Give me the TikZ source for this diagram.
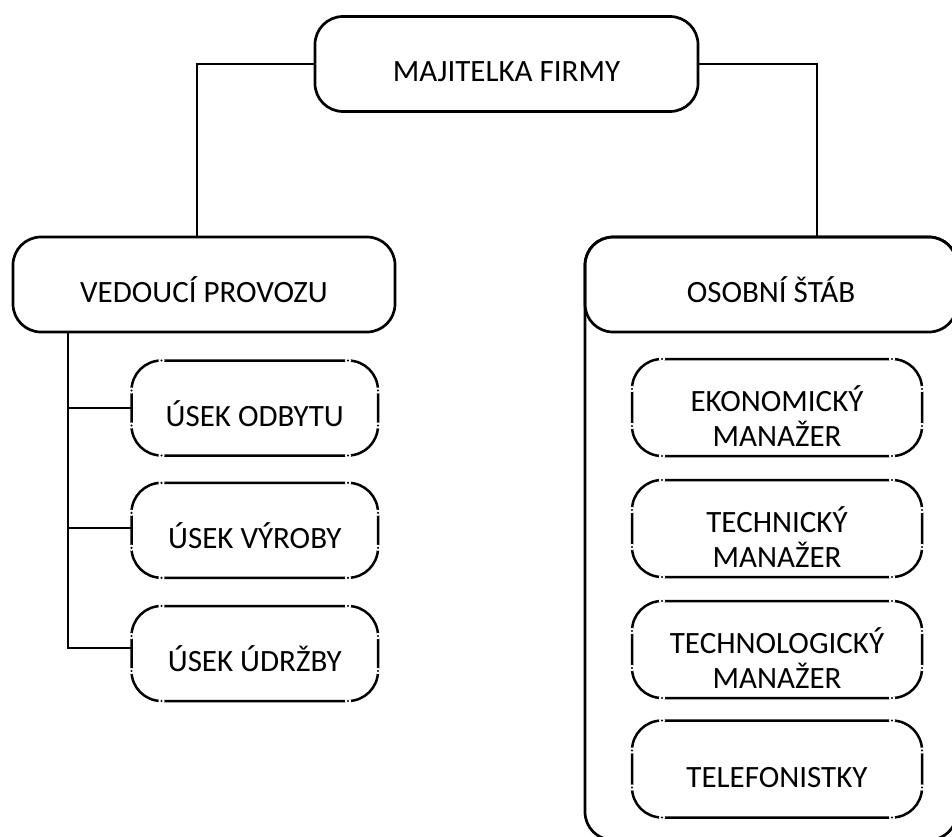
\documentclass[tikz,border=0pt]{standalone}
\usepackage{fontspec}
\setmainfont{Carlito}
\usetikzlibrary{calc}

% single line label: baseline sits a little below the box centre
\newcommand\oneline[1]{\raisebox{-18pt}[0pt][0pt]{#1}}
% two centred lines, first baseline just below the box centre
\newcommand\twoline[2]{\raisebox{-4.2pt}[0pt][0pt]{\vtop{\halign{\hfil##\hfil\cr #1\cr #2\cr}}}}

% breaks with a small dot where the corner arcs meet the straight sides
\newcommand\gapdots[1]{%
  \foreach \a/\dx/\dy in {north west/30/0, north west/0/-30, north east/-30/0, north east/0/-30,
                           south east/-30/0, south east/0/30, south west/30/0, south west/0/30}{%
    \fill[white] ([xshift=\dx pt, yshift=\dy pt]#1.\a) circle[radius=3.1pt];
    \fill[black] ([xshift=\dx pt, yshift=\dy pt]#1.\a) circle[radius=1.2pt];
  }}

\tikzset{
  headbox/.style={draw=black, line width=2.7pt, rounded corners=28pt, outer sep=0pt,
                  inner sep=0pt, minimum height=95pt},
  unitbox/.style={draw=black, line width=2.5pt, rounded corners=30pt, outer sep=0pt,
                  inner sep=0pt, minimum height=95pt, minimum width=246.5pt},
  staffbox/.style={unitbox, minimum height=97pt, minimum width=290pt},
  link/.style={draw=black, line width=2.5pt},
}

\begin{document}
\begin{tikzpicture}[x=1pt, y=-1pt, font=\fontsize{31}{35}\selectfont]
\useasboundingbox (0,0) rectangle (952,837);
\clip (0,0) rectangle (952,837);

% top level
\node[headbox, minimum width=383pt] (owner) at (506.5,64) {\oneline{MAJITELKA FIRMY}};

% second level
\node[headbox, minimum width=382pt] (ved) at (204,284.5) {\oneline{VEDOUCÍ PROVOZU}};
\node[headbox, minimum width=372pt] (staff) at (771,284.5) {\oneline{OSOBNÍ ŠTÁB}};

% frame that holds the staff units
\coordinate (staffend) at (957,840);
\draw[line width=2.7pt, rounded corners=28pt] (staff.north west) rectangle (staffend);

% production units
\node[unitbox] (odbyt) at (254.75,408) {\oneline{ÚSEK ODBYTU}};
\node[unitbox] (vyroba) at (254.75,530.3) {\oneline{ÚSEK VÝROBY}};
\node[unitbox] (udrzba) at (254.75,653.5) {\oneline{ÚSEK ÚDRŽBY}};

% staff units
\node[staffbox] (ekon) at (777,407.5) {\twoline{EKONOMICKÝ}{MANAŽER}};
\node[staffbox] (tech) at (777,528.5) {\twoline{TECHNICKÝ}{MANAŽER}};
\node[staffbox] (techno) at (777,649.5) {\twoline{TECHNOLOGICKÝ}{MANAŽER}};
\node[staffbox] (tel) at (777,769) {\oneline{TELEFONISTKY}};

\foreach \n in {odbyt, vyroba, udrzba, ekon, tech, techno, tel}{\gapdots{\n}}

% connectors
\draw[link] (owner.west) -| ([xshift=-7pt]ved.north);
\draw[link] (owner.east) -| ([xshift=46pt]staff.north);

\coordinate (trunk) at ([xshift=55pt]ved.south west);
\draw[link] (trunk) |- ([yshift=5.5pt]udrzba.west);
\draw[link] (trunk |- odbyt.west) -- (odbyt.west);
\draw[link] (trunk |- vyroba.west) ++(0,-2.3) -- ([yshift=2.3pt]vyroba.west);
\end{tikzpicture}
\end{document}
